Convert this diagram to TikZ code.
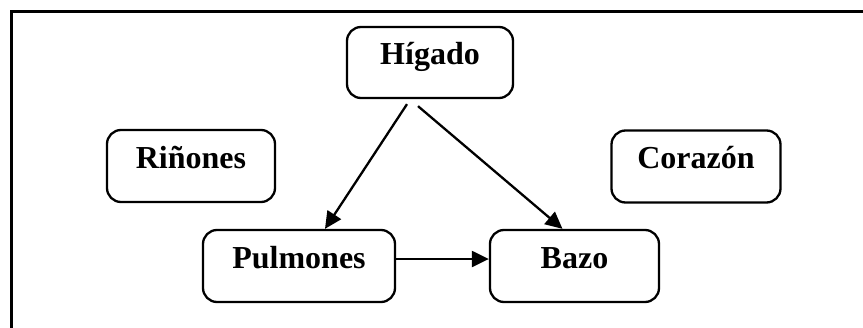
\documentclass[tikz,border=0pt]{standalone}
\usepackage{fontspec}
\setmainfont{Liberation Serif}
\usetikzlibrary{arrows.meta}
\begin{document}
\begin{tikzpicture}[x=1pt,y=-1pt,
  organ/.style={draw, line width=2.3pt, rounded corners=14pt,
    font=\fontsize{32}{32}\selectfont\bfseries,
    text height=21pt, text depth=17pt, inner sep=0pt},
  link/.style={line width=2.3pt, -{Triangle[length=17pt,width=16pt]}}]
  \useasboundingbox (0,0) rectangle (863,327);
  % outer frame, running past the right and bottom edges
  \begin{scope}
    \clip (0,0) rectangle (863,327);
    \draw[line width=3pt] (11.5,11.5) rectangle (880,340);
  \end{scope}
  % organs
  \node[organ, minimum width=166pt, minimum height=71pt] (hig) at (430,62.5) {Hígado};
  \node[organ, minimum width=168pt, minimum height=72pt] (rin) at (191,166) {Riñones};
  \node[organ, minimum width=169pt, minimum height=72pt] (cor) at (696,166.5) {Corazón};
  \node[organ, minimum width=192pt, minimum height=72pt] (pul) at (299,266) {Pulmones};
  \node[organ, minimum width=169pt, minimum height=72pt] (baz) at (574.5,266) {Bazo};
  % relations
  \draw[link] ([xshift=-23pt,yshift=-5pt]hig.south) -- ([xshift=26pt]pul.north);
  \draw[link] ([xshift=-12pt,yshift=-7pt]hig.south) -- ([xshift=-12pt]baz.north);
  \draw[link] ([yshift=7pt]pul.east) -- ([yshift=7pt]baz.west);
\end{tikzpicture}
\end{document}
